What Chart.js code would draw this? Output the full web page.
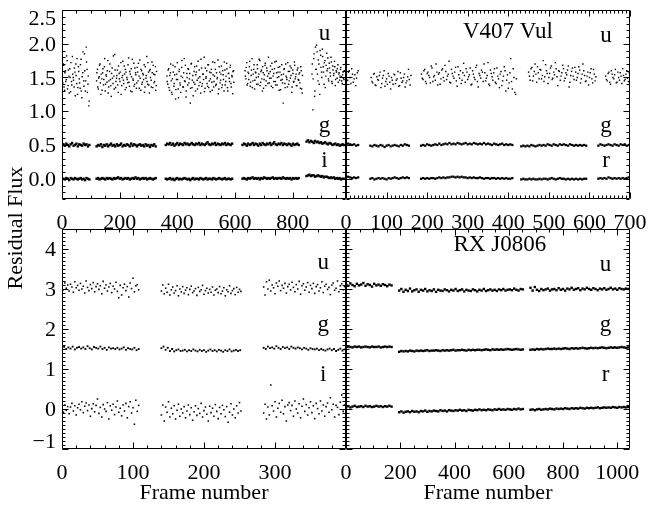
<!DOCTYPE html>
<html><head><meta charset="utf-8">
<script src="https://cdn.jsdelivr.net/npm/chart.js@4/dist/chart.umd.min.js"></script>
<style>
html,body{margin:0;padding:0;background:#fff}
body{width:658px;height:506px;position:relative;overflow:hidden}
canvas{position:absolute;left:0;top:0}
</style></head><body>
<canvas id="tl" width="658" height="506"></canvas>
<canvas id="tr" width="658" height="506"></canvas>
<canvas id="bl" width="658" height="506"></canvas>
<canvas id="br" width="658" height="506"></canvas>
<script>
// ---------- DATA: V407 Vul, u g i camera (frame step per series) ----------
const tlStepU = 3, tlStepGI = 5;
const tl_u = [
 [0,[1.55,1.42,1.68,1.31,1.60,1.47,1.75,1.38,1.52,1.63,1.29,1.44,1.81,1.50,1.36,1.58,1.70,1.41,1.25,1.66,1.48,1.34,1.77,1.20,1.57,1.45,1.85,1.30,1.95,1.62,1.40,1.08]],
 [120,[1.45,1.62,1.33,1.51,1.70,1.25,1.48,1.57,1.39,1.66,1.30,1.54,1.43,1.75,1.36,1.59,1.47,1.22,1.64,1.41,1.52,1.84,1.35,1.49,1.61,1.28,1.56,1.44,1.72,1.38,1.53,1.46,1.67,1.32,1.58,1.50,1.42,1.79,1.37,1.55,1.63,1.29,1.48,1.71,1.40,1.57,1.34,1.65,1.45,1.52,1.76,1.31,1.60,1.43,1.54,1.69,1.36,1.49,1.81,1.40,1.58,1.27,1.62,1.46,1.73,1.35,1.55,1.44,1.66,1.38]],
 [364,[1.52,1.40,1.63,1.31,1.57,1.45,1.25,1.68,1.37,1.54,1.18,1.47,1.72,1.33,1.59,1.42,1.28,1.65,1.50,1.36,1.78,1.44,1.21,1.56,1.39,1.62,1.48,1.12,1.70,1.35,1.53,1.43,1.66,1.30,1.58,1.46,1.74,1.38,1.51,1.27,1.64,1.41,1.55,1.80,1.34,1.49,1.60,1.37,1.69,1.45,1.29,1.57,1.43,1.73,1.36,1.52,1.62,1.40,1.48,1.76,1.33,1.58,1.46,1.67,1.39,1.54,1.30,1.61,1.44,1.71,1.35,1.56,1.49,1.65,1.41,1.53,1.26,1.60]],
 [635,[1.60,1.48,1.72,1.41,1.56,1.66,1.37,1.53,1.78,1.45,1.62,1.33,1.58,1.50,1.69,1.40,1.55,1.75,1.43,1.61,1.30,1.57,1.47,1.68,1.38,1.64,1.52,1.80,1.42,1.59,1.49,1.71,1.35,1.56,1.63,1.44,1.74,1.39,1.58,1.51,1.66,1.32,1.54,1.47,1.12,1.62,1.41,1.70,1.50,1.36,1.59,1.45,1.67,1.53,1.28,1.61,1.43,1.73,1.48,1.55,1.38,1.64,1.46,1.57,1.34,1.60,1.27]],
 [867,[1.55,1.02,1.78,1.22,1.95,1.62,1.88,1.45,1.70,1.25,1.83,1.58,1.92,1.66,1.40,1.75,1.52,1.86,1.63,1.48,1.71,1.57,1.80,1.44,1.67,1.53,1.74,1.38,1.60,1.49,1.69,1.55,1.46,1.62,1.51,1.41,1.58,1.47]]
];
// interleaved frames (offset) of the same u light curve
const tl_u_b = [
 [1,[1.48,1.70,1.36,1.57,1.44,1.82,1.33,1.61,1.27,1.50,1.72,1.39,1.55,1.46,1.64,1.23,1.53,1.78,1.35,1.59,1.42,1.69,1.30,1.51,1.88,1.37,1.60,1.45,1.73,1.28,1.52,1.15]],
 [121,[1.57,1.36,1.49,1.68,1.42,1.55,1.31,1.63,1.47,1.78,1.40,1.52,1.60,1.27,1.45,1.70,1.38,1.56,1.49,1.82,1.33,1.61,1.44,1.53,1.39,1.67,1.48,1.58,1.25,1.50,1.74,1.41,1.55,1.62,1.35,1.47,1.69,1.43,1.59,1.30,1.51,1.77,1.46,1.37,1.64,1.54,1.42,1.58,1.71,1.34,1.49,1.62,1.40,1.56,1.47,1.28,1.66,1.53,1.44,1.72,1.39,1.60,1.50,1.36,1.57,1.68,1.42,1.54,1.31,1.59]],
 [365,[1.44,1.61,1.35,1.53,1.70,1.28,1.48,1.58,1.41,1.66,1.32,1.55,1.47,1.20,1.62,1.39,1.52,1.75,1.36,1.57,1.45,1.68,1.30,1.50,1.63,1.42,1.56,1.34,1.71,1.46,1.23,1.59,1.40,1.54,1.67,1.33,1.49,1.61,1.43,1.77,1.37,1.55,1.47,1.29,1.64,1.51,1.41,1.69,1.35,1.58,1.48,1.62,1.31,1.54,1.44,1.72,1.38,1.57,1.50,1.26,1.66,1.42,1.55,1.35,1.60,1.47,1.73,1.39,1.52,1.63,1.30,1.56,1.44,1.68,1.36,1.51,1.59,1.43]],
 [636,[1.52,1.65,1.39,1.58,1.47,1.74,1.43,1.61,1.35,1.55,1.69,1.46,1.57,1.40,1.63,1.51,1.77,1.38,1.59,1.48,1.66,1.34,1.54,1.71,1.45,1.60,1.41,1.56,1.49,1.67,1.37,1.62,1.52,1.44,1.73,1.39,1.57,1.50,1.65,1.31,1.58,1.46,1.69,1.42,1.55,1.63,1.35,1.52,1.47,1.72,1.40,1.59,1.49,1.64,1.36,1.56,1.44,1.68,1.51,1.38,1.61,1.47,1.55,1.42,1.66,1.33,1.53]],
 [868,[1.70,1.48,1.85,1.30,1.62,1.98,1.55,1.76,1.40,1.90,1.65,1.50,1.81,1.58,1.72,1.35,1.68,1.60,1.79,1.45,1.64,1.52,1.73,1.41,1.61,1.56,1.66,1.47,1.58,1.63,1.43,1.57,1.52,1.65,1.45,1.54,1.49,1.60]]
];
const tl_g = [
 [5,[0.51,0.49,0.52,0.50,0.48,0.51,0.53,0.49,0.50,0.52,0.48,0.51,0.50,0.49,0.52,0.50,0.51,0.48,0.50]],
 [120,[0.48,0.50,0.49,0.51,0.47,0.50,0.49,0.51,0.48,0.50,0.52,0.49,0.50,0.48,0.51,0.49,0.50,0.52,0.48,0.50,0.49,0.51,0.50,0.48,0.52,0.49,0.51,0.50,0.48,0.50,0.51,0.49,0.50,0.48,0.51,0.49,0.50,0.47,0.50,0.49,0.51,0.48]],
 [360,[0.50,0.52,0.51,0.53,0.50,0.52,0.49,0.51,0.53,0.50,0.52,0.51,0.50,0.53,0.51,0.52,0.50,0.51,0.53,0.51,0.50,0.52,0.51,0.53,0.50,0.52,0.51,0.50,0.52,0.54,0.51,0.50,0.52,0.51,0.53,0.50,0.52,0.51,0.50,0.52,0.51,0.53,0.50,0.52,0.51,0.50,0.52]],
 [626,[0.50,0.52,0.51,0.49,0.52,0.50,0.51,0.53,0.50,0.52,0.51,0.49,0.52,0.50,0.53,0.51,0.50,0.52,0.51,0.53,0.50,0.52,0.54,0.51,0.50,0.52,0.51,0.53,0.50,0.52,0.51,0.50,0.52,0.51,0.49,0.52,0.50,0.51,0.52,0.50]],
 [848,[0.55,0.57,0.54,0.56,0.55,0.53,0.56,0.54,0.55,0.53,0.54,0.52,0.53,0.54,0.52,0.51,0.53,0.52,0.50,0.51,0.52,0.50,0.51,0.49,0.50,0.51,0.50]]
];
const tl_i = [
 [5,[0.00,-0.01,0.01,0.00,-0.02,0.01,0.00,-0.01,0.01,0.00,-0.01,0.00,0.01,-0.01,0.00,-0.02,0.01,0.00,-0.01]],
 [120,[0.00,0.01,-0.01,0.00,0.01,0.00,-0.01,0.01,0.00,0.01,0.00,-0.01,0.01,0.00,0.01,0.02,0.00,0.01,-0.01,0.00,0.01,0.00,0.01,-0.01,0.00,0.01,0.00,0.02,0.00,0.01,-0.01,0.00,0.01,0.00,0.01,-0.01,0.00,0.01,0.00,-0.01,0.00,0.01]],
 [360,[0.00,-0.01,0.00,0.01,-0.01,0.00,-0.02,0.00,0.01,-0.01,0.00,-0.01,0.00,0.01,0.00,-0.01,0.00,-0.02,0.00,0.01,-0.01,0.00,0.00,-0.01,0.01,0.00,-0.01,0.00,0.01,-0.01,0.00,0.00,-0.01,0.01,0.00,-0.01,0.00,0.01,0.00,-0.01,0.00,0.01,-0.01,0.00,0.00,-0.01,0.00]],
 [626,[0.00,0.01,0.00,-0.01,0.01,0.00,0.01,0.02,0.00,0.01,0.00,0.01,-0.01,0.01,0.00,0.02,0.01,0.00,0.01,0.00,0.01,0.02,0.00,0.01,0.00,0.01,0.01,0.00,0.02,0.01,0.00,0.01,0.00,0.01,-0.01,0.01,0.00,0.01,0.00,0.01]],
 [848,[0.04,0.05,0.06,0.04,0.05,0.05,0.03,0.04,0.05,0.04,0.03,0.04,0.02,0.03,0.03,0.02,0.01,0.02,0.01,0.02,0.00,0.01,0.00,0.01,-0.01,0.00,0.00]]
];

// ---------- DATA: V407 Vul, u g r camera ----------
const trStepU = 4, trStepGR = 5;
const tr_u = [
 [0,[1.52,1.46,1.60,1.41,1.55,1.48,1.38,1.57]],
 [62,[1.50,1.42,1.56,1.38,1.47,1.53,1.35,1.49,1.60,1.44,1.40,1.52,1.33,1.46,1.55,1.41,1.48,1.37,1.57,1.43,1.50,1.36,1.45,1.62,1.39]],
 [186,[1.55,1.47,1.62,1.41,1.58,1.50,1.67,1.44,1.53,1.70,1.39,1.57,1.48,1.63,1.45,1.59,1.52,1.74,1.42,1.56,1.49,1.65,1.37,1.54,1.60,1.46,1.71,1.43,1.58,1.51,1.64,1.40,1.55,1.47,1.68,1.36,1.53,1.61,1.44,1.57,1.49,1.72,1.38,1.56,1.46,1.63,1.41,1.52,1.35,1.59,1.45,1.66,1.30,1.54,1.42,1.78,1.33,1.50,1.25]],
 [450,[1.58,1.46,1.65,1.52,1.70,1.43,1.57,1.62,1.48,1.75,1.51,1.60,1.41,1.56,1.67,1.49,1.54,1.63,1.38,1.59,1.52,1.68,1.45,1.57,1.61,1.36,1.53,1.64,1.47,1.58,1.50,1.66,1.42,1.55,1.60,1.44,1.52,1.39,1.57,1.48,1.62,1.45]],
 [640,[1.52,1.45,1.58,1.40,1.55,1.48,1.62,1.43,1.50,1.57,1.41,1.53,1.47,1.60,1.44,1.51]]
];
const tr_u_b = [
 [2,[1.45,1.58,1.50,1.63,1.43,1.54,1.49,1.60]],
 [64,[1.44,1.55,1.39,1.51,1.46,1.58,1.41,1.53,1.37,1.48,1.56,1.43,1.50,1.40,1.54,1.46,1.59,1.38,1.49,1.45,1.55,1.42,1.51,1.47,1.53]],
 [188,[1.49,1.60,1.44,1.56,1.53,1.42,1.64,1.51,1.46,1.58,1.55,1.40,1.61,1.50,1.68,1.47,1.55,1.43,1.62,1.52,1.58,1.45,1.66,1.49,1.41,1.57,1.53,1.63,1.47,1.54,1.39,1.60,1.50,1.65,1.44,1.56,1.49,1.58,1.70,1.45,1.53,1.40,1.61,1.51,1.57,1.43,1.64,1.48,1.55,1.38,1.52,1.60,1.46,1.34,1.57,1.44,1.63,1.28,1.48]],
 [452,[1.52,1.63,1.45,1.59,1.55,1.66,1.48,1.61,1.53,1.44,1.69,1.56,1.50,1.64,1.47,1.58,1.72,1.51,1.60,1.46,1.57,1.63,1.49,1.54,1.67,1.43,1.59,1.52,1.65,1.46,1.56,1.61,1.48,1.70,1.53,1.45,1.58,1.50,1.63,1.42,1.55,1.51]],
 [642,[1.47,1.56,1.43,1.60,1.50,1.54,1.42,1.58,1.46,1.52,1.63,1.45,1.55,1.49,1.57,1.48]]
];
const tr_g = [
 [0,[0.50,0.52,0.51,0.50,0.51,0.49,0.50]],
 [60,[0.49,0.48,0.50,0.49,0.48,0.50,0.49,0.47,0.49,0.50,0.48,0.49,0.50,0.49,0.48,0.50,0.49,0.51,0.50,0.49]],
 [185,[0.49,0.50,0.49,0.51,0.50,0.49,0.50,0.51,0.50,0.52,0.50,0.51,0.52,0.51,0.53,0.51,0.52,0.51,0.53,0.52,0.51,0.52,0.53,0.51,0.52,0.51,0.53,0.52,0.51,0.52,0.51,0.53,0.51,0.52,0.51,0.50,0.52,0.51,0.50,0.51,0.52,0.50,0.51,0.50,0.51,0.50]],
 [432,[0.48,0.49,0.48,0.49,0.48,0.50,0.49,0.48,0.49,0.50,0.49,0.50,0.49,0.51,0.50,0.49,0.51,0.50,0.49,0.51,0.50,0.51,0.50,0.49,0.51,0.50,0.49,0.50,0.49,0.50,0.49,0.50,0.49]],
 [622,[0.49,0.51,0.50,0.49,0.50,0.51,0.50,0.49,0.51,0.50,0.49,0.51,0.50,0.51,0.49,0.50]]
];
const tr_r = [
 [0,[0.02,0.03,0.02,0.01,0.02,0.01,0.02]],
 [60,[0.00,0.01,-0.01,0.00,0.01,0.00,0.01,0.00,-0.01,0.01,0.00,0.01,0.02,0.01,0.00,0.01,0.02,0.01,0.02,0.01]],
 [185,[0.00,0.01,0.00,0.01,0.00,0.01,0.01,0.00,0.01,0.02,0.01,0.02,0.01,0.02,0.02,0.03,0.03,0.02,0.03,0.02,0.03,0.02,0.02,0.01,0.02,0.01,0.02,0.01,0.01,0.02,0.01,0.00,0.01,0.01,0.00,0.01,0.01,0.00,0.01,0.00,0.01,0.00,0.01,0.00,0.00,0.01]],
 [432,[-0.01,0.00,-0.01,-0.01,0.00,-0.01,0.00,-0.01,-0.01,0.00,-0.01,0.00,0.00,-0.01,0.00,0.01,0.00,-0.01,0.00,0.01,0.00,0.00,-0.01,0.00,-0.01,0.00,-0.01,0.00,-0.01,0.00,-0.01,0.00,0.00]],
 [622,[0.00,0.01,0.00,0.01,0.00,0.02,0.01,0.00,0.01,0.00,0.01,0.00,0.01,0.00,0.01,0.02]]
];

// ---------- DATA: RX J0806, u g i camera ----------
const blStepUI = 2, blStepG = 3;
const bl_u = [
 [0,[3.08,2.98,3.15,3.02,3.10,2.95,3.12,3.05,2.92,3.18,3.03,3.09,2.97,3.14,3.00,3.07,2.90,3.20,3.04,2.96,3.11,3.01,3.16,2.93,3.06,3.13,2.99,3.08,2.88,3.19,3.02,3.10,2.95,3.05,3.14,2.91,3.07,3.00,3.17,2.94,2.78,3.09,2.85,3.03,3.12,2.96,3.06,2.80,3.15,3.01,3.27,2.93,3.08,3.11,2.98]],
 [140,[2.95,3.10,2.88,3.02,2.92,3.12,2.85,2.98,3.05,2.90,2.96,3.08,2.83,3.00,2.93,3.06,2.89,2.97,3.03,2.86,2.99,3.07,2.91,2.95,3.01,2.84,3.04,2.94,2.98,3.09,2.87,2.96,3.02,2.90,2.99,2.92,3.05,2.85,2.97,3.00,2.91,3.06,2.88,2.95,3.03,2.83,2.98,2.93,3.08,2.89,2.96,3.01,2.86,3.04,2.92,2.99,2.94]],
 [284,[3.05,2.85,3.18,3.00,3.22,2.95,3.10,3.03,2.88,3.15,3.07,3.20,2.96,3.09,3.02,3.14,2.90,3.06,3.12,2.98,3.17,3.04,2.93,3.11,3.00,3.19,2.87,3.08,3.13,2.97,3.05,3.16,2.92,3.09,3.01,3.14,2.89,3.06,3.11,2.95,3.03,3.18,2.91,3.07,3.12,2.99,3.04,2.86,3.10,3.15,2.97,3.02,3.20,2.93,3.08,3.13,2.98,3.06]]
];
const bl_g = [
 [0,[1.52,1.55,1.50,1.54,1.51,1.56,1.49,1.53,1.55,1.51,1.54,1.50,1.57,1.52,1.49,1.55,1.53,1.51,1.56,1.50,1.53,1.48,1.54,1.51,1.52,1.50,1.53,1.49,1.51,1.54,1.48,1.52,1.50,1.49,1.53,1.47,1.50]],
 [140,[1.52,1.56,1.48,1.53,1.45,1.50,1.44,1.47,1.49,1.45,1.46,1.48,1.44,1.47,1.45,1.49,1.46,1.44,1.48,1.45,1.47,1.43,1.46,1.49,1.45,1.47,1.44,1.48,1.46,1.43,1.47,1.45,1.49,1.44,1.46,1.48,1.45,1.47]],
 [284,[1.53,1.50,1.56,1.52,1.54,1.51,1.57,1.53,1.50,1.55,1.52,1.54,1.50,1.56,1.53,1.51,1.54,1.52,1.49,1.53,1.51,1.48,1.52,1.50,1.49,1.51,1.47,1.50,1.48,1.46,1.49,1.51,1.47,1.50,1.45,1.48,1.51,1.46,1.49]]
];
const bl_i = [
 [0,[0.02,-0.08,0.10,-0.03,0.06,-0.12,0.05,0.14,-0.05,0.08,-0.15,0.03,0.12,-0.02,0.18,-0.09,0.07,0.15,-0.04,0.10,-0.18,0.01,0.13,-0.07,0.09,0.25,-0.11,0.04,-0.20,0.11,0.00,-0.06,0.16,-0.25,0.08,-0.03,0.12,-0.14,0.05,0.20,-0.08,0.02,-0.17,0.10,-0.05,0.14,-0.22,0.06,0.18,-0.10,0.03,-0.38,0.22,-0.06,0.09]],
 [140,[-0.15,0.10,-0.30,0.05,-0.08,0.18,-0.20,0.02,-0.12,0.08,-0.25,-0.03,0.12,-0.18,0.00,-0.10,0.06,-0.22,-0.05,0.10,-0.14,0.03,-0.28,-0.07,0.08,-0.16,0.01,-0.11,0.14,-0.20,-0.04,0.05,-0.13,-0.30,0.07,-0.09,0.02,-0.18,0.11,-0.06,-0.24,0.04,-0.12,0.09,-0.02,-0.19,0.06,-0.33,-0.08,0.13,-0.15,0.00,-0.22,0.08,-0.10,0.16,-0.05]],
 [284,[-0.10,0.12,-0.25,0.05,-0.15,0.60,0.08,-0.05,0.18,-0.20,0.02,0.14,-0.08,0.22,-0.12,0.06,-0.30,0.10,0.16,-0.04,0.09,-0.18,0.20,0.00,-0.10,0.13,-0.22,0.07,0.25,-0.06,0.11,-0.15,0.03,0.18,-0.09,0.08,-0.24,0.14,0.01,-0.12,0.20,-0.05,0.10,-0.18,0.06,0.15,-0.08,0.28,-0.02,0.12,-0.20,0.09,0.04,-0.14,0.17,0.35,-0.06,0.10]]
];

// ---------- DATA: RX J0806, u g r camera ----------
const brStep = 8;
const br_u = [
 [0,[3.12,3.08,3.14,3.10,3.07,3.13,3.09,3.11,3.15,3.08,3.12,3.10,3.06,3.13,3.09,3.11,3.08,3.12,3.10,3.07,3.11,3.09]],
 [196,[2.96,3.00,2.93,2.98,2.95,3.01,2.94,2.97,2.99,2.93,2.98,2.96,3.00,2.94,2.97,2.95,2.99,2.93,2.98,2.96,2.95,2.99,2.97,2.94,2.98,2.96,3.00,2.95,2.97,2.99,2.94,2.98,2.96,2.95,2.99,2.97,2.94,2.98,2.96,3.00,2.95,2.97,2.99,2.96,2.98,2.95,2.99,2.97,3.00,2.96,2.98,2.99,2.97,3.01,2.98,2.96,3.00,2.99]],
 [680,[3.03,2.96,3.05,2.98,2.95,3.00,2.97,2.99,3.01,2.96,2.99,3.00,2.97,3.02,2.98,3.00,2.96,3.01,2.99,3.03,2.98,3.00,3.02,2.97,3.01,2.99,3.03,3.00,2.98,3.02,3.00,2.97,3.01,2.99,3.02,2.98,3.00,3.03,2.99,3.01,2.98,3.02,3.00,2.99,3.01,3.00,3.02]]
];
const br_g = [
 [0,[1.55,1.56,1.55,1.54,1.56,1.55,1.56,1.54,1.55,1.56,1.55,1.54,1.56,1.55,1.55,1.56,1.54,1.55,1.56,1.55,1.56,1.55]],
 [196,[1.43,1.45,1.44,1.45,1.44,1.46,1.45,1.44,1.46,1.45,1.46,1.45,1.46,1.47,1.45,1.46,1.46,1.47,1.46,1.45,1.47,1.46,1.47,1.46,1.47,1.48,1.46,1.47,1.47,1.48,1.47,1.46,1.48,1.47,1.48,1.47,1.48,1.48,1.47,1.48,1.49,1.48,1.47,1.49,1.48,1.49,1.48,1.49,1.48,1.49,1.50,1.49,1.48,1.49,1.50,1.49,1.48,1.49]],
 [680,[1.48,1.49,1.48,1.50,1.49,1.50,1.49,1.50,1.51,1.50,1.50,1.51,1.50,1.51,1.50,1.51,1.52,1.51,1.50,1.52,1.51,1.52,1.51,1.52,1.53,1.52,1.51,1.52,1.53,1.52,1.53,1.52,1.53,1.54,1.53,1.52,1.53,1.54,1.53,1.54,1.53,1.54,1.55,1.54,1.53,1.54,1.55]]
];
const br_r = [
 [0,[0.05,0.07,0.04,0.06,0.08,0.05,0.06,0.07,0.05,0.08,0.06,0.07,0.05,0.06,0.08,0.06,0.07,0.05,0.07,0.06,0.08,0.06]],
 [196,[-0.08,-0.06,-0.09,-0.07,-0.06,-0.08,-0.05,-0.07,-0.06,-0.08,-0.05,-0.06,-0.04,-0.07,-0.05,-0.06,-0.04,-0.05,-0.06,-0.03,-0.05,-0.04,-0.06,-0.03,-0.04,-0.05,-0.03,-0.04,-0.02,-0.04,-0.03,-0.05,-0.02,-0.03,-0.04,-0.02,-0.03,-0.01,-0.03,-0.02,-0.03,-0.01,-0.02,-0.03,-0.01,-0.02,0.00,-0.02,-0.01,-0.02,0.00,-0.01,-0.02,0.00,-0.01,0.01,-0.01,0.00]],
 [680,[-0.02,-0.01,-0.03,-0.01,0.00,-0.02,-0.01,0.00,-0.01,0.01,0.00,-0.01,0.01,0.00,0.01,0.00,0.02,0.01,0.00,0.02,0.01,0.02,0.01,0.03,0.02,0.01,0.03,0.02,0.03,0.02,0.03,0.04,0.02,0.03,0.04,0.03,0.04,0.03,0.05,0.04,0.03,0.05,0.04,0.05,0.04,0.05,0.06]]
];

// tick labels
const tlXTicks = [0,200,400,600,800];
const trXTicks = [0,100,200,300,400,500,600,700];
const blXTicks = [0,100,200,300];
const brXTicks = [0,200,400,600,800,1000];
const topYTicks = [0.0,0.5,1.0,1.5,2.0,2.5];
const botYTicks = [-1,0,1,2,3,4];

// ---------- rendering ----------
const W = 658, H = 506;
const FONT = '"Liberation Serif","Times New Roman",serif';

function build(segs, step){
  const pts = [];
  segs.forEach(([start, vals]) => vals.forEach((v, k) => pts.push({x: start + k*step, y: v})));
  return pts;
}
function ds(segs, step, r){
  return {data: build(segs, step), pointStyle:'rect', pointRadius:r, borderWidth:0,
          backgroundColor:'#000', showLine:false};
}

const framePlugin = {
  id:'frame',
  afterDatasetsDraw(chart, _a, o){
    const c = chart.ctx, a = chart.chartArea, X = chart.scales.x, Y = chart.scales.y;
    c.save();
    c.strokeStyle = '#000'; c.lineWidth = 1; c.fillStyle = '#000';
    const L = Math.round(a.left)+0.5, R = Math.round(a.right)-0.5;
    const T = Math.round(a.top)+0.5, B = Math.round(a.bottom)-0.5;
    c.beginPath(); c.rect(L, T, R-L, B-T); c.stroke();
    const ticks = (min, max, minor, major) => {
      const out = [];
      const k0 = Math.ceil(min/minor - 1e-6), k1 = Math.floor(max/minor + 1e-6);
      for (let k = k0; k <= k1; k++){
        const v = +(k*minor).toFixed(6);
        out.push([v, Math.abs(v/major - Math.round(v/major)) < 1e-6]);
      }
      return out;
    };
    c.beginPath();
    ticks(X.min, X.max, o.xMinor, o.xMajor).forEach(([v, m]) => {
      const p = Math.round(X.getPixelForValue(v)) + 0.5, len = m ? 6 : 3;
      c.moveTo(p, B); c.lineTo(p, B - len); c.moveTo(p, T); c.lineTo(p, T + len);
    });
    ticks(Y.min, Y.max, o.yMinor, o.yMajor).forEach(([v, m]) => {
      const p = Math.round(Y.getPixelForValue(v)) + 0.5, len = m ? 6 : 3;
      c.moveTo(L, p); c.lineTo(L + len, p); c.moveTo(R, p); c.lineTo(R - len, p);
    });
    c.stroke();
    // tick labels
    c.font = '22px ' + FONT;
    c.textBaseline = 'alphabetic';
    c.textAlign = 'center';
    o.xLabels.forEach(v => c.fillText(String(v), X.getPixelForValue(v), a.bottom + 30));
    if (o.yLabels){
      c.textAlign = 'right';
      o.yLabels.forEach(v => {
        let b = Y.getPixelForValue(v) + 7;
        b = Math.max(a.top + 15, Math.min(a.bottom - 1, b));
        c.fillText(o.yFmt(v), a.left - 6, b);
      });
    }
    // panel annotations (data coordinates)
    c.font = '23px ' + FONT;
    c.textAlign = 'center';
    (o.notes || []).forEach(n => c.fillText(n.t, X.getPixelForValue(n.x), Y.getPixelForValue(n.y)));
    c.font = '22px ' + FONT;
    if (o.xTitle){ c.fillText(o.xTitle, (a.left + a.right)/2, a.bottom + 50); }
    if (o.yTitle){
      c.save(); c.translate(22, 228); c.rotate(-Math.PI/2);
      c.fillText(o.yTitle, 0, 0); c.restore();
    }
    c.restore();
  }
};

function makeChart(id, box, xr, yr, datasets, frameOpts){
  new Chart(document.getElementById(id), {
    type:'scatter',
    data:{datasets},
    options:{
      responsive:false, animation:false, events:[],
      layout:{padding:{left:box[0], top:box[1], right:W-box[2], bottom:H-box[3]}},
      plugins:{legend:{display:false}, tooltip:{enabled:false}, frame:frameOpts},
      scales:{
        x:{type:'linear', min:xr[0], max:xr[1], display:false},
        y:{type:'linear', min:yr[0], max:yr[1], display:false}
      }
    },
    plugins:[framePlugin]
  });
}

const XL = 62, XM = 346, XR = 630, YT1 = 10, YB1 = 199, YT2 = 229, YB2 = 449;

makeChart('tl', [XL, YT1, XM, YB1], [0, 985], [-0.3, 2.5],
  [ds(tl_u, tlStepU, 1.0), ds(tl_u_b, tlStepU, 1.0), ds(tl_g, tlStepGI, 1.7), ds(tl_i, tlStepGI, 1.7)],
  {xMinor:50, xMajor:200, yMinor:0.1, yMajor:0.5, xLabels:tlXTicks, yLabels:topYTicks,
   yFmt:v => v.toFixed(1),
   notes:[{t:'u', x:910, y:2.06}, {t:'g', x:910, y:0.70}, {t:'i', x:910, y:0.18}]});

makeChart('tr', [XM, YT1, XR, YB1], [0, 700], [-0.3, 2.5],
  [ds(tr_u, trStepU, 1.0), ds(tr_u_b, trStepU, 1.0), ds(tr_g, trStepGR, 1.6), ds(tr_r, trStepGR, 1.6)],
  {xMinor:10, xMajor:100, yMinor:0.1, yMajor:0.5, xLabels:trXTicks, yLabels:null,
   notes:[{t:'V407 Vul', x:399, y:2.08}, {t:'u', x:641, y:2.03}, {t:'g', x:641, y:0.70}, {t:'r', x:641, y:0.18}]});

makeChart('bl', [XL, YT2, XM, YB2], [0, 400], [-1, 4.5],
  [ds(bl_u, blStepUI, 1.1), ds(bl_g, blStepG, 1.3), ds(bl_i, blStepUI, 1.1)],
  {xMinor:20, xMajor:100, yMinor:0.1, yMajor:1, xLabels:blXTicks, yLabels:botYTicks,
   yFmt:v => (v < 0 ? '\u2212' + Math.abs(v) : String(v)),
   notes:[{t:'u', x:368, y:3.5}, {t:'g', x:368, y:1.95}, {t:'i', x:368, y:0.7}],
   xTitle:'Frame number', yTitle:'Residual Flux'});

makeChart('br', [XM, YT2, XR, YB2], [0, 1047], [-1, 4.5],
  [ds(br_u, brStep, 1.7), ds(br_g, brStep, 1.7), ds(br_r, brStep, 1.7)],
  {xMinor:50, xMajor:200, yMinor:0.1, yMajor:1, xLabels:brXTicks, yLabels:null,
   notes:[{t:'RX J0806', x:567, y:3.95}, {t:'u', x:957, y:3.45}, {t:'g', x:957, y:1.95}, {t:'r', x:957, y:0.7}],
   xTitle:'Frame number'});
</script>
</body></html>
